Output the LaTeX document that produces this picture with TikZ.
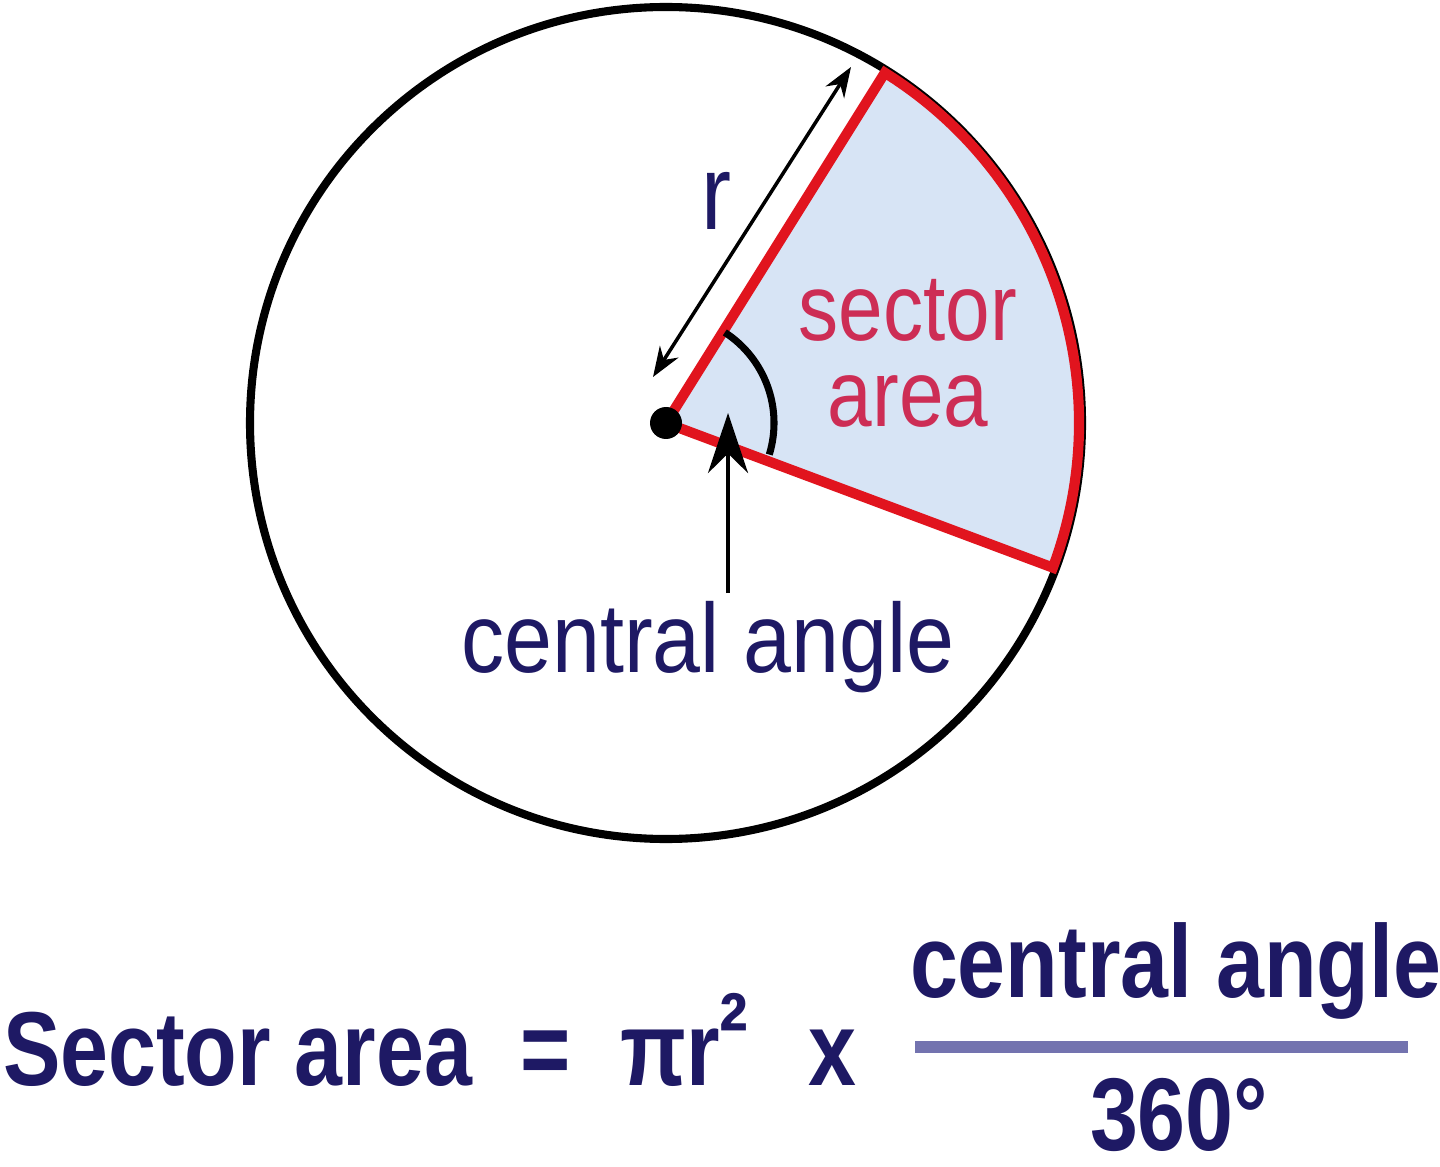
\documentclass[tikz,border=0pt]{standalone}
\usepackage{fontspec}
\setmainfont{Liberation Sans}
\usepackage{graphicx}
\usetikzlibrary{arrows.meta}
\definecolor{navy}{RGB}{30,25,100}
\definecolor{secred}{RGB}{225,20,30}
\definecolor{secfill}{RGB}{215,228,245}
\definecolor{sectext}{RGB}{205,45,85}
\definecolor{fracline}{RGB}{115,115,175}
\newcommand\vtxt[2][1.18]{\scalebox{1}[#1]{#2}}
\tikzset{
  lbl/.style={inner sep=0pt, outer sep=0pt, anchor=base},
  navytxt/.style={lbl, text=navy},
  boldtxt/.style={lbl, text=navy, font=\fontsize{24.5}{29}\selectfont\bfseries, anchor=base west},
  dimarrow/.style={line width=1.0pt, {Stealth[length=3mm,width=2.2mm]}-{Stealth[length=3mm,width=2.2mm]}},
  ptrarrow/.style={line width=1.2pt, -{Stealth[length=6mm,width=4mm]}}
}
\begin{document}
\begin{tikzpicture}[x=0.01cm,y=0.01cm]
\useasboundingbox (0,0) rectangle (1440,1166);
\fill[white] (0,0) rectangle (1440,1166);
\coordinate (O) at (666,743);
% circle
\draw[line width=2.3pt] (O) circle[radius=416];
% sector
\path (O) ++(58:413) coordinate (A);
\path (O) ++(-20.5:413) coordinate (B);
\filldraw[fill=secfill, draw=secred, line width=2.9pt, line join=miter]
  (O) -- (A) arc[start angle=58, end angle=-20.5, radius=413] -- cycle;
% angle arc
\draw[line width=2pt] (O) ++(57:108) arc[start angle=57, end angle=-17, radius=108];
% centre dot
\fill (O) circle[radius=16];
% radius dimension arrow
\coordinate (R1) at (653,789);
\coordinate (R2) at (851,1099);
\draw[dimarrow] (R1) -- (R2);
\node[navytxt, font=\fontsize{25.6}{30}\selectfont] (r) at (716,936) {\vtxt{r}};
% sector area label
\node[lbl, text=sectext, font=\fontsize{22.8}{27}\selectfont] (sec1) at (908,825) {\vtxt[1.18]{sector}};
\node[lbl, text=sectext, font=\fontsize{22.8}{27}\selectfont] (sec2) at (908,739) {\vtxt[1.18]{area}};
% central angle label and arrow
\node[navytxt, font=\fontsize{24.5}{29}\selectfont] (ca) at (708,494) {\vtxt[1.14]{central angle}};
\coordinate (caTail) at (728,573);
\coordinate (caTip) at (728,753);
\draw[ptrarrow] (caTail) -- (caTip);
% formula
\node[boldtxt] (f1) at (3,81) {\vtxt[1.22]{Sector area}};
\node[boldtxt] (f2) at (520,81) {\vtxt[1.22]{=}};
\node[boldtxt] (f3) at (620,81) {\vtxt[1.22]{πr\raisebox{0.18em}{²}}};
\node[boldtxt] (f4) at (808,81) {\vtxt[1.22]{x}};
\node[boldtxt] (num) at (910,169) {\vtxt[1.2]{central angle}};
\coordinate (L1) at (915,119);
\coordinate (L2) at (1408,119);
\draw[fracline, line width=3.4pt] (L1) -- (L2);
\node[boldtxt] (den) at (1090,16) {\vtxt[1.2]{360°}};
\end{tikzpicture}
\end{document}
